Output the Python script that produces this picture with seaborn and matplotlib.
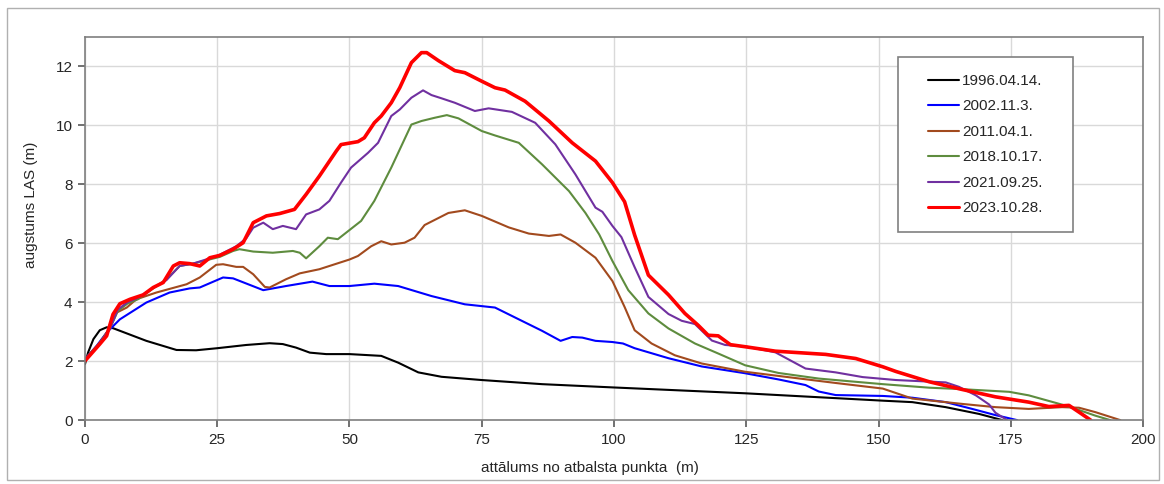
import matplotlib
matplotlib.use("Agg")
import matplotlib.pyplot as plt
from matplotlib.patches import Rectangle
import seaborn as sns
import pandas as pd

# profile data, x = distance (m), y = height (m)
black_x = [0, 0.6, 1.6, 2.8, 4.1, 5.3, 11.6, 17.3, 21, 25, 30.5, 34.9, 37.4, 39.9, 42.5, 45.6, 50, 56, 59.2, 63,
           67.4, 75, 86.4, 99.7, 124.8, 150.8, 156.4, 162.7, 169, 173.4]
black_y = [1.9, 2.3, 2.75, 3.05, 3.15, 3.12, 2.69, 2.38, 2.37, 2.44, 2.55, 2.61, 2.58, 2.46, 2.29, 2.24, 2.24, 2.18,
           1.95, 1.62, 1.47, 1.36, 1.22, 1.11, 0.91, 0.66, 0.61, 0.44, 0.21, 0]

blue_x = [0, 2.2, 4.1, 6.6, 11.6, 16, 19.8, 21.7, 26.1, 28, 33.7, 38, 43, 46.2, 50, 54.7, 59.2, 65.5, 71.8,
          77.5, 82, 86.4, 89.9, 92.1, 94, 96.5, 99.7, 101.7, 103.9, 110.3, 116.6, 124.8, 131.1, 136.2, 138.7,
          141.9, 150.8, 156.4, 162.7, 167.7, 172.1, 176.2]
blue_y = [2.07, 2.52, 2.97, 3.42, 3.99, 4.33, 4.47, 4.5, 4.84, 4.81, 4.41, 4.55, 4.7, 4.55, 4.55, 4.63, 4.55,
          4.21, 3.93, 3.82, 3.42, 3.03, 2.69, 2.82, 2.8, 2.69, 2.65, 2.6, 2.44, 2.1, 1.82, 1.59, 1.38, 1.19,
          0.97, 0.85, 0.82, 0.76, 0.61, 0.38, 0.17, 0]

brown_x = [0, 2.8, 4.7, 6, 7.9, 9.7, 13.5, 19.2, 21.7, 24.8, 26.1, 28.6, 29.9, 31.8, 34, 34.9, 38, 40.6,
           44.3, 50, 51.6, 54.1, 56, 57.9, 60.4, 62.3, 64.2, 68.7, 71.8, 75, 80.1, 83.9, 87.7, 89.9, 92.7,
           96.5, 99.7, 102, 103.9, 107.1, 111.5, 116.6, 124.8, 132.4, 141.9, 150.8, 156.4, 165.8, 172.1,
           178.4, 184.7, 187.9, 191, 195.7]
brown_y = [2.07, 2.63, 3.14, 3.65, 3.82, 4.1, 4.33, 4.61, 4.84, 5.27, 5.29, 5.2, 5.2, 4.95, 4.52, 4.5, 4.78,
           4.98, 5.12, 5.45, 5.57, 5.9, 6.07, 5.96, 6.02, 6.19, 6.62, 7.03, 7.12, 6.93, 6.54, 6.33, 6.25,
           6.3, 6.02, 5.51, 4.72, 3.84, 3.05, 2.6, 2.2, 1.92, 1.64, 1.47, 1.26, 1.07, 0.73, 0.55, 0.44, 0.38,
           0.44, 0.42, 0.27, 0]

green_x = [0, 2.8, 4.7, 6.2, 8, 10, 13.5, 15.4, 17.9, 20.4, 25.5, 28, 29.2, 31.8, 35.5, 39.3, 40.6, 41.8,
           44.3, 45.9, 47.8, 50, 52.2, 54.7, 57.9, 61.7, 63.6, 66.1, 68.4, 70.6, 75, 77.5, 82, 86.4, 91.5,
           94.6, 97.2, 99.7, 102.7, 106.5, 110.3, 115.3, 119.7, 124.8, 131.1, 138.7, 150.8, 159.6, 165.8,
           174.7, 178.4, 182.2, 186, 191, 193.8]
green_y = [2.07, 2.6, 3.1, 3.7, 3.95, 4.1, 4.55, 4.78, 5.23, 5.31, 5.54, 5.74, 5.8, 5.72, 5.68, 5.74, 5.68,
           5.49, 5.9, 6.19, 6.14, 6.45, 6.76, 7.44, 8.57, 10.03, 10.15, 10.26, 10.35, 10.24, 9.81, 9.66,
           9.41, 8.68, 7.77, 7.03, 6.3, 5.4, 4.41, 3.62, 3.11, 2.6, 2.26, 1.86, 1.6, 1.41, 1.22, 1.1, 1.05,
           0.96, 0.84, 0.65, 0.46, 0.15, 0]

purple_x = [0, 2.8, 4.7, 6.2, 8, 10, 13.5, 15.4, 17.9, 20.4, 25, 28.6, 30.5, 31.8, 33.7, 35.5, 37.4, 39.9,
            41.8, 44.3, 46.2, 48.4, 50.3, 53.5, 55.4, 57.9, 59.5, 61.7, 63.9, 65.5, 67.4, 69.9, 73.7, 76.3,
            80.7, 85.1, 88.9, 92.7, 96.5, 97.8, 99.7, 101.4, 103.9, 106.5, 110.3, 112.8, 115.3, 118.5, 121,
            124.8, 130.5, 136.2, 141.9, 147, 153.3, 162.7, 165.2, 168.4, 170.9, 172.1, 174.3]
purple_y = [2.07, 2.6, 3.1, 3.75, 4.0, 4.15, 4.55, 4.75, 5.23, 5.31, 5.57, 5.9, 6.17, 6.53, 6.7, 6.48, 6.59,
            6.48, 6.98, 7.15, 7.44, 8.06, 8.57, 9.07, 9.41, 10.32, 10.54, 10.94, 11.19, 11.03, 10.92, 10.77,
            10.49, 10.58, 10.46, 10.09, 9.36, 8.34, 7.21, 7.07, 6.59, 6.21, 5.19, 4.18, 3.6, 3.37, 3.26, 2.7,
            2.55, 2.5, 2.3, 1.75, 1.62, 1.46, 1.36, 1.28, 1.13, 0.84, 0.53, 0.25, 0]

red_x = [0, 2.8, 4.1, 5.3, 6.6, 8.5, 11, 12.9, 14.8, 16.7, 17.9, 19.8, 21.7, 23.6, 25.5, 28, 29.9, 31.8,
         34.3, 36.8, 39.6, 41.8, 44.3, 47.5, 48.4, 51.6, 52.8, 54.7, 56, 57.9, 59.5, 61.7, 63.6, 64.6, 66.8,
         69.9, 71.8, 75, 77.5, 79.4, 83.2, 87.7, 92.1, 96.5, 99.7, 102, 103.9, 106.5, 110.3, 113.4, 115.9,
         117.8, 119.7, 122, 124.8, 130.5, 140, 145.7, 150.8, 153.3, 159.6, 165.8, 172.1, 178.4, 182.2, 186,
         187.9, 190.1]
red_y = [2.01, 2.58, 2.86, 3.59, 3.95, 4.1, 4.25, 4.5, 4.67, 5.23, 5.34, 5.31, 5.23, 5.51, 5.59, 5.8, 6.02,
         6.7, 6.93, 7.01, 7.15, 7.66, 8.28, 9.13, 9.35, 9.45, 9.58, 10.09, 10.32, 10.77, 11.28, 12.13, 12.47,
         12.47, 12.2, 11.86, 11.79, 11.5, 11.28, 11.2, 10.82, 10.15, 9.41, 8.79, 8.06, 7.41, 6.28, 4.92,
         4.25, 3.62, 3.22, 2.88, 2.86, 2.56, 2.49, 2.34, 2.23, 2.09, 1.81, 1.65, 1.3, 1.04, 0.79, 0.61,
         0.46, 0.5, 0.27, 0]

labels = ["1996.04.14.", "2002.11.3.", "2011.04.1.", "2018.10.17.", "2021.09.25.", "2023.10.28."]
colors = ["#000000", "#0000ff", "#a24a1e", "#5e8c3e", "#7030a0", "#ff0000"]
widths = [1.5, 1.5, 1.5, 1.5, 1.5, 2.6]
xs = [black_x, blue_x, brown_x, green_x, purple_x, red_x]
ys = [black_y, blue_y, brown_y, green_y, purple_y, red_y]

sns.set_theme(style="whitegrid")
plt.rcParams["font.family"] = ["Liberation Sans", "DejaVu Sans"]

fig = plt.figure(figsize=(11.64, 4.84), dpi=100)
ax = fig.add_axes([0.073, 0.132, 0.909, 0.7915])

for lab, c, lw, x, y in zip(labels, colors, widths, xs, ys):
    df = pd.DataFrame({"x": x, "y": y})
    sns.lineplot(data=df, x="x", y="y", color=c, linewidth=lw, label=lab,
                 sort=False, estimator=None, ax=ax,
                 solid_joinstyle="round", solid_capstyle="round")

ax.set_xlim(0, 200)
ax.set_ylim(0, 13)
ax.set_xticks(range(0, 201, 25))
ax.set_yticks(range(0, 13, 2))
ax.grid(True, color="#d9d9d9", linewidth=1)
for s in ax.spines.values():
    s.set_color("#7f7f7f")
    s.set_linewidth(1.2)
ax.tick_params(axis="both", direction="out", length=5, width=1.2, color="#595959",
               labelsize=11, labelcolor="#262626", pad=4)
ax.tick_params(left=True, bottom=True)

ax.set_xlabel("attālums no atbalsta punkta  (m)", fontsize=11, color="#262626")
ax.set_ylabel("augstums LAS (m)", fontsize=11, color="#262626")
ax.xaxis.set_label_coords(0.477, -0.107)
ax.yaxis.set_label_coords(-0.044, 0.561)

# legend box drawn separately so the padding matches
ax.add_patch(Rectangle((0.768, 0.49), 0.1654, 0.457, transform=ax.transAxes,
                       facecolor="white", edgecolor="#808080", linewidth=1.2, zorder=5))
leg = ax.legend(loc="center", bbox_to_anchor=(0.851, 0.719), frameon=False, fontsize=11,
                handlelength=2.0, handletextpad=0.2, labelspacing=0.75)
leg.set_zorder(6)
for h in leg.get_lines():
    h.set_linewidth(1.5)
leg.get_lines()[-1].set_linewidth(2.2)

# thin outer border around the whole figure
fig.patches.append(Rectangle((0.006, 0.008), 0.99, 0.976, transform=fig.transFigure,
                             fill=False, edgecolor="#b0b0b0", linewidth=1))

fig.savefig("out.png", dpi=100)
